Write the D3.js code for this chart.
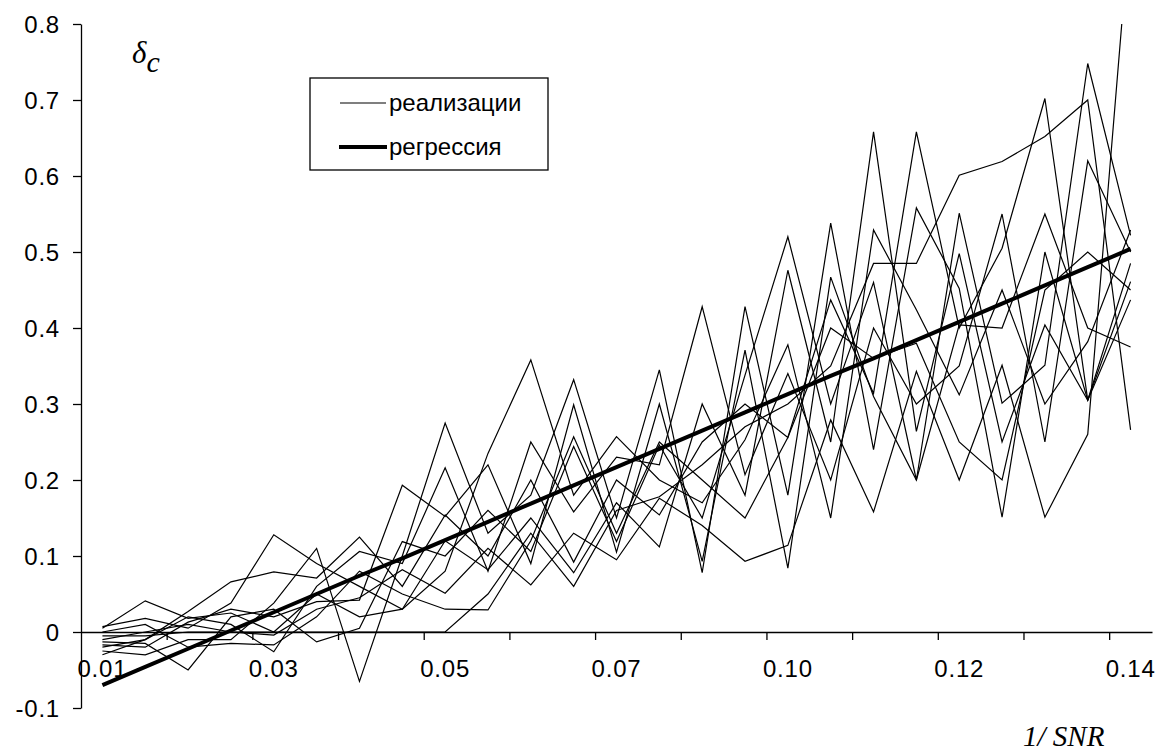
<!DOCTYPE html>
<html>
<head>
<meta charset="utf-8">
<script src="https://cdn.jsdelivr.net/npm/d3@7"></script>
<style>
  body { margin: 0; background: #fff; }
  svg text { font-family: 'Liberation Sans', Arial, sans-serif; fill: #000; }
</style>
</head>
<body>
<div id="chart"></div>
<script>
// category values on the x axis (1/SNR)
const categories = [0.0100, 0.0154, 0.0208, 0.0263, 0.0317, 0.0371, 0.0425, 0.0479, 0.0533,
  0.0588, 0.0642, 0.0696, 0.0750, 0.0804, 0.0858, 0.0913, 0.0967, 0.1021, 0.1075, 0.1129,
  0.1183, 0.1238, 0.1292, 0.1346, 0.1400]
const tickLabels = ['0.01', '0.03', '0.05', '0.07', '0.10', '0.12', '0.14']
const yTicks = [-0.1, 0, 0.1, 0.2, 0.3, 0.4, 0.5, 0.6, 0.7, 0.8]
const yTickLabels = ['-0.1', '0', '0.1', '0.2', '0.3', '0.4', '0.5', '0.6', '0.7', '0.8']

// realizations
const r1 = [-0.010, 0.000, 0.010, 0.000, -0.004, 0.030, 0.045, 0.082, 0.051, 0.110, 0.062, 0.130, 0.095, 0.176, 0.140, 0.093, 0.114, 0.279, 0.158, 0.343, 0.200, 0.351, 0.151, 0.260, 0.940]
const r2 = [0.005, 0.041, 0.018, 0.025, 0.000, 0.050, 0.020, 0.030, 0.120, 0.082, 0.150, 0.078, 0.170, 0.112, 0.300, 0.180, 0.476, 0.250, 0.658, 0.264, 0.498, 0.250, 0.404, 0.305, 0.485]
const r3 = [-0.020, -0.010, 0.027, 0.066, 0.079, 0.071, 0.125, 0.060, 0.154, 0.100, 0.200, 0.092, 0.200, 0.154, 0.250, 0.300, 0.256, 0.437, 0.314, 0.658, 0.400, 0.505, 0.702, 0.305, 0.461]
const r4 = [-0.013, -0.015, -0.050, 0.020, 0.030, -0.013, 0.005, 0.119, 0.100, 0.160, 0.106, 0.244, 0.119, 0.246, 0.150, 0.338, 0.520, 0.300, 0.460, 0.200, 0.551, 0.301, 0.351, 0.748, 0.522]
const r5 = [0.007, 0.018, 0.005, 0.038, 0.128, 0.090, 0.060, 0.030, 0.080, 0.235, 0.358, 0.180, 0.257, 0.200, 0.170, 0.253, 0.378, 0.150, 0.529, 0.424, 0.312, 0.450, 0.300, 0.382, 0.529]
const r6 = [-0.025, -0.030, -0.010, -0.010, 0.038, 0.110, -0.065, 0.100, 0.275, 0.130, 0.180, 0.332, 0.150, 0.345, 0.078, 0.428, 0.180, 0.538, 0.240, 0.558, 0.452, 0.151, 0.500, 0.305, 0.437]
const r7 = [-0.005, -0.005, 0.000, 0.000, 0.000, 0.000, 0.000, 0.000, 0.000, 0.050, 0.130, 0.060, 0.160, 0.178, 0.220, 0.270, 0.300, 0.350, 0.485, 0.485, 0.601, 0.619, 0.652, 0.700, 0.266]
const r8 = [-0.017, -0.020, 0.013, 0.030, 0.020, 0.040, 0.042, 0.193, 0.152, 0.220, 0.090, 0.299, 0.105, 0.300, 0.093, 0.371, 0.084, 0.467, 0.310, 0.200, 0.404, 0.400, 0.550, 0.400, 0.375]
const r9 = [-0.030, -0.010, 0.020, 0.010, -0.026, 0.060, 0.106, 0.090, 0.216, 0.080, 0.250, 0.158, 0.230, 0.220, 0.428, 0.207, 0.340, 0.200, 0.400, 0.300, 0.350, 0.550, 0.250, 0.620, 0.500]
const r10 = [0.000, 0.010, -0.020, -0.015, -0.017, 0.020, 0.080, 0.050, 0.030, 0.029, 0.120, 0.257, 0.130, 0.250, 0.200, 0.150, 0.256, 0.400, 0.360, 0.380, 0.250, 0.200, 0.450, 0.500, 0.450]
const realizations = [r1, r2, r3, r4, r5, r6, r7, r8, r9, r10]

// regression line
const regression = [-0.070, -0.046, -0.022, 0.002, 0.026, 0.050, 0.074, 0.097, 0.121, 0.145, 0.169, 0.193,
  0.217, 0.241, 0.265, 0.289, 0.313, 0.337, 0.360, 0.384, 0.408, 0.432, 0.456, 0.480, 0.504]

// set the dimensions and margins of the graph
const margin = { top: 24, right: 21, bottom: 47, left: 81 }
const width = 1173 - margin.left - margin.right
const height = 755 - margin.top - margin.bottom

const svg = d3.select('#chart')
  .append('svg')
  .attr('width', width + margin.left + margin.right)
  .attr('height', height + margin.top + margin.bottom)

const g = svg.append('g')
  .attr('transform', 'translate(' + margin.left + ',' + margin.top + ')')

// X: category bands, plus an index scale for the tick marks between them
const idx = d3.range(categories.length)
const x = d3.scaleBand().domain(idx).range([0, width])
const xEdge = d3.scaleLinear().domain([0, categories.length]).range([0, width])
const cx = i => x(i) + x.bandwidth() / 2

const y = d3.scaleLinear().domain([-0.1, 0.8]).range([height, 0])

g.append('clipPath').attr('id', 'plot')
  .append('rect').attr('width', width).attr('height', height)

// Y axis
const yAxis = g.append('g')
  .call(d3.axisLeft(y)
    .tickValues(yTicks)
    .tickFormat((d, i) => yTickLabels[i])
    .tickSizeInner(8)
    .tickSizeOuter(0)
    .tickPadding(13))
yAxis.selectAll('text')
  .style('font-size', '24px')
  .style('letter-spacing', '0.8px')
  .attr('dy', '0.35em')

// X axis crosses at zero
g.append('g')
  .attr('transform', 'translate(0,' + y(0) + ')')
  .call(d3.axisBottom(xEdge)
    .tickValues(d3.range(2, categories.length, 2))
    .tickFormat('')
    .tickSizeInner(8)
    .tickSizeOuter(0))

const xLabels = g.append('g')
  .attr('transform', 'translate(0,' + y(0) + ')')
  .call(d3.axisBottom(x)
    .tickValues(d3.range(0, categories.length, 4))
    .tickFormat((d, i) => tickLabels[i])
    .tickSize(0)
    .tickPadding(28))
xLabels.select('.domain').remove()
xLabels.selectAll('text')
  .style('font-size', '24px')
  .style('letter-spacing', '0.8px')

g.selectAll('.domain, .tick line').attr('stroke', '#000').attr('stroke-width', 1.3)

// lines
const line = d3.line()
  .x((d, i) => cx(i))
  .y(d => y(d))

const lines = g.append('g').attr('clip-path', 'url(#plot)')

lines.selectAll('path.real')
  .data(realizations)
  .enter()
  .append('path')
  .attr('class', 'real')
  .attr('d', line)
  .attr('fill', 'none')
  .attr('stroke', '#000')
  .attr('stroke-width', 1.2)

lines.append('path')
  .datum(regression)
  .attr('d', line)
  .attr('fill', 'none')
  .attr('stroke', '#000')
  .attr('stroke-width', 4)

// legend
const legend = svg.append('g').attr('transform', 'translate(310,78)')
legend.append('rect')
  .attr('width', 238).attr('height', 92)
  .attr('fill', '#fff').attr('stroke', '#000').attr('stroke-width', 1.3)
legend.append('line').attr('x1', 30).attr('x2', 76).attr('y1', 25).attr('y2', 25)
  .attr('stroke', '#000').attr('stroke-width', 1.2)
legend.append('line').attr('x1', 29).attr('x2', 77).attr('y1', 69).attr('y2', 69)
  .attr('stroke', '#000').attr('stroke-width', 4)
legend.append('text').attr('x', 79).attr('y', 33).style('font-size', '24px').text('реализации')
legend.append('text').attr('x', 79).attr('y', 77).style('font-size', '24px').text('регрессия')

// axis titles
const yTitle = svg.append('text')
  .attr('x', 132).attr('y', 63)
  .style('font-family', "'Liberation Serif', 'Times New Roman', serif")
  .style('font-style', 'italic')
yTitle.append('tspan').style('font-size', '31px').text('δ')
yTitle.append('tspan').attr('dy', 9).style('font-size', '30px').text('c')

svg.append('text')
  .attr('x', 1023).attr('y', 746)
  .style('font-family', "'Liberation Serif', 'Times New Roman', serif")
  .style('font-style', 'italic')
  .style('font-size', '29px')
  .text('1/ SNR')
</script>
</body>
</html>
